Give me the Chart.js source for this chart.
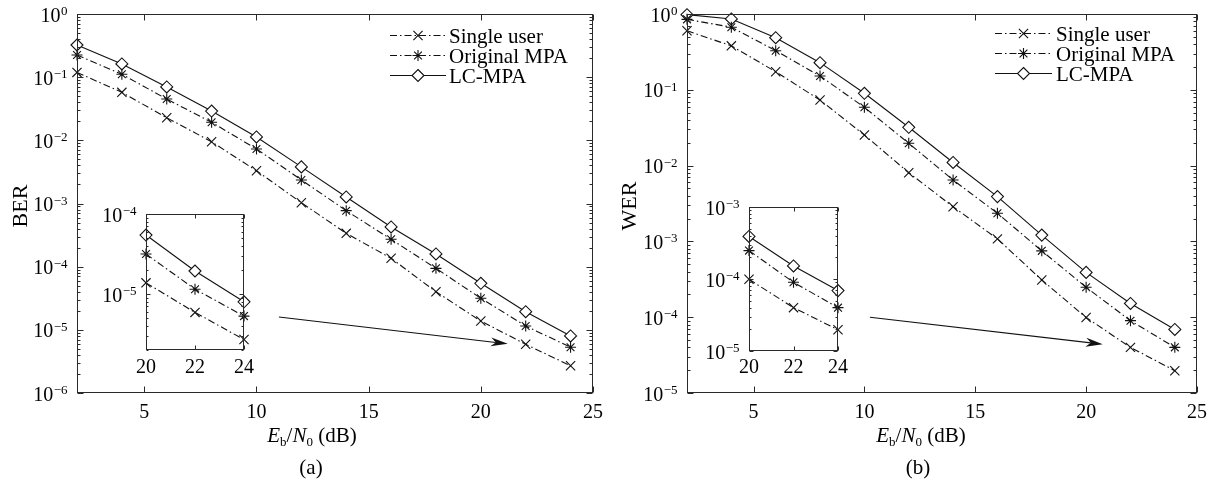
<!DOCTYPE html>
<html>
<head>
<meta charset="utf-8">
<title>BER / WER versus Eb/N0</title>
<script src="https://cdn.jsdelivr.net/npm/chart.js@4.4.1/dist/chart.umd.min.js"></script>
<style>
  html, body { margin: 0; padding: 0; background: #fff; }
  #wrap { position: relative; width: 1223px; height: 482px; overflow: hidden; background: #fff; }
  canvas { position: absolute; }
</style>
</head>
<body>
<div id="wrap">
  <canvas id="berMain" width="610" height="482" style="left:0px;top:0px"></canvas>
  <canvas id="berInset" width="170" height="185" style="left:96px;top:200px"></canvas>
  <canvas id="werMain" width="613" height="482" style="left:610px;top:0px"></canvas>
  <canvas id="werInset" width="160" height="195" style="left:700px;top:193px"></canvas>
</div>
<script>
// ---- data ----
const snrDb = [2, 4, 6, 8, 10, 12, 14, 16, 18, 20, 22, 24];
const seriesNames = ['Single user', 'Original MPA', 'LC-MPA'];

// bit error rate, panel (a)
const berSingleUser  = [0.119, 0.0575, 0.0228, 0.0095, 0.0033, 0.00103, 3.37e-4, 1.36e-4, 4.0e-5, 1.38e-5, 5.9e-6, 2.7e-6];
const berOriginalMpa = [0.224, 0.111, 0.045, 0.0193, 0.0073, 0.00236, 7.7e-4, 2.71e-4, 9.4e-5, 3.16e-5, 1.15e-5, 5.3e-6];
const berLcMpa       = [0.323, 0.162, 0.070, 0.0291, 0.0113, 0.0038, 1.27e-3, 4.25e-4, 1.59e-4, 5.46e-5, 1.94e-5, 8.0e-6];

// word error rate, panel (b)
const werSingleUser  = [0.60, 0.38, 0.173, 0.0733, 0.0253, 0.00806, 0.00287, 0.00108, 3.1e-4, 9.9e-5, 4.0e-5, 1.97e-5];
const werOriginalMpa = [0.85, 0.67, 0.328, 0.152, 0.0588, 0.0197, 0.00646, 0.00235, 7.5e-4, 2.48e-4, 9.0e-5, 4.0e-5];
const werLcMpa       = [0.98, 0.86, 0.487, 0.228, 0.090, 0.032, 0.011, 0.0039, 1.21e-3, 3.9e-4, 1.52e-4, 6.9e-5];

// tick labels
const mainXTicks = [5, 10, 15, 20, 25];
const insetXTicks = [20, 22, 24];
const berDecades = [0, -1, -2, -3, -4, -5, -6];
const werDecades = [0, -1, -2, -3, -4, -5];
const berInsetDecades = [-4, -5];
const werInsetDecades = [-3, -4, -5];
const insetFromDb = 20;

// zoom arrows (data units: [Eb/N0, error rate])
const berArrowFrom = [11.0, 1.6e-5], berArrowTo = [21.2, 6.0e-6];
const werArrowFrom = [10.25, 1.0e-4], werArrowTo = [20.75, 4.4e-5];

// ---- styling ----
const FONT = '"Liberation Serif", "Times New Roman", Times, serif';
const INK = '#111';
const AXIS = '#2a2a2a';
const DASH_DOT = [7, 3, 1.5, 3];
const seriesStyles = [
  { pointStyle: 'crossRot', radius: 6.5, dash: DASH_DOT },
  { pointStyle: 'star',     radius: 5.5, dash: DASH_DOT },
  { pointStyle: 'rectRot',  radius: 6,   dash: [] }
];

function makeDatasets(seriesValues, fromDb) {
  return seriesValues.map((vals, i) => {
    const pts = [];
    snrDb.forEach((x, j) => { if (x >= fromDb) pts.push({ x: x, y: vals[j] }); });
    const st = seriesStyles[i];
    return {
      label: seriesNames[i],
      data: pts,
      borderColor: INK,
      borderWidth: 1.1,
      borderDash: st.dash,
      pointStyle: st.pointStyle,
      pointRadius: st.radius,
      pointBorderColor: INK,
      pointBackgroundColor: '#fff',
      pointBorderWidth: 1.1,
      fill: false,
      tension: 0,
      clip: false
    };
  });
}

// small marker painter for the legend rows (same shapes as the chart points)
function paintMarker(ctx, style, r, x, y) {
  ctx.beginPath();
  if (style === 'crossRot' || style === 'star') {
    const d = r * Math.SQRT1_2;
    ctx.moveTo(x - d, y - d); ctx.lineTo(x + d, y + d);
    ctx.moveTo(x - d, y + d); ctx.lineTo(x + d, y - d);
    if (style === 'star') {
      ctx.moveTo(x - r, y); ctx.lineTo(x + r, y);
      ctx.moveTo(x, y - r); ctx.lineTo(x, y + r);
    }
    ctx.stroke();
  } else {
    ctx.moveTo(x, y - r); ctx.lineTo(x + r, y); ctx.lineTo(x, y + r); ctx.lineTo(x - r, y);
    ctx.closePath();
    ctx.fillStyle = '#fff'; ctx.fill(); ctx.stroke();
  }
}

function hline(ctx, x0, y0, x1, y1) {
  ctx.beginPath(); ctx.moveTo(x0, y0); ctx.lineTo(x1, y1); ctx.stroke();
}

// rich text run: parts {t, italic, sub}
function drawRun(ctx, parts, cx, baseline, size) {
  const subSize = Math.round(size * 0.64);
  const fontOf = p => (p.italic ? 'italic ' : '') + (p.sub ? subSize : size) + 'px ' + FONT;
  let total = 0;
  parts.forEach(p => { ctx.font = fontOf(p); p.w = ctx.measureText(p.t).width; total += p.w; });
  let x = cx - total / 2;
  ctx.textAlign = 'left'; ctx.textBaseline = 'alphabetic';
  parts.forEach(p => {
    ctx.font = fontOf(p);
    ctx.fillText(p.t, x, baseline + (p.sub ? 4 : 0));
    x += p.w;
  });
}

function drawArrow(ctx, xs, ys, from, to) {
  const x0 = xs.getPixelForValue(from[0]), y0 = ys.getPixelForValue(from[1]);
  const x1 = xs.getPixelForValue(to[0]),   y1 = ys.getPixelForValue(to[1]);
  const a = Math.atan2(y1 - y0, x1 - x0), c = Math.cos(a), s = Math.sin(a);
  const len = 17, hw = 4.5, notch = 12;
  ctx.strokeStyle = INK; ctx.fillStyle = INK; ctx.lineWidth = 1.1;
  hline(ctx, x0, y0, x1 - notch * c, y1 - notch * s);
  ctx.beginPath();
  ctx.moveTo(x1, y1);
  ctx.lineTo(x1 - len * c + hw * s, y1 - len * s - hw * c);
  ctx.lineTo(x1 - notch * c, y1 - notch * s);
  ctx.lineTo(x1 - len * c - hw * s, y1 - len * s + hw * c);
  ctx.closePath();
  ctx.fill();
}

// axes box, inward ticks, labels, legend and titles
function makeDeco(cfg) {
  return {
    id: 'deco',
    beforeDatasetsDraw(chart) {
      if (!cfg.whiteArea) return;
      const a = chart.chartArea, ctx = chart.ctx;
      ctx.save(); ctx.fillStyle = '#fff';
      ctx.fillRect(a.left, a.top, a.right - a.left, a.bottom - a.top);
      ctx.restore();
    },
    afterDatasetsDraw(chart) {
      const ctx = chart.ctx, a = chart.chartArea;
      const xs = chart.scales.x, ys = chart.scales.y;
      const L = Math.round(a.left) + 0.5, R = Math.round(a.right) - 0.5;
      const T = Math.round(a.top) + 0.5, B = Math.round(a.bottom) - 0.5;
      ctx.save();
      ctx.setLineDash([]);
      ctx.strokeStyle = AXIS; ctx.lineWidth = 1;
      ctx.strokeRect(L, T, R - L, B - T);

      // x ticks (bottom + mirrored top)
      cfg.xTicks.forEach(v => {
        const px = Math.round(xs.getPixelForValue(v)) + 0.5;
        hline(ctx, px, B, px, B - cfg.major);
        hline(ctx, px, T, px, T + cfg.major);
      });
      // y ticks, decades + minor 2..9 (left + mirrored right)
      const lo = Math.floor(Math.log10(ys.min)), hi = Math.ceil(Math.log10(ys.max));
      for (let d = lo; d <= hi; d++) {
        for (let m = 1; m <= 9; m++) {
          const v = m * Math.pow(10, d);
          if (v < ys.min * 0.999 || v > ys.max * 1.001) continue;
          const len = m === 1 ? cfg.major : cfg.minor;
          const py = Math.round(ys.getPixelForValue(v)) + 0.5;
          hline(ctx, L, py, L + len, py);
          hline(ctx, R, py, R - len, py);
        }
      }

      ctx.fillStyle = '#000';
      // x tick labels
      ctx.font = cfg.fontSize + 'px ' + FONT;
      ctx.textAlign = 'center'; ctx.textBaseline = 'alphabetic';
      cfg.xTicks.forEach(v => {
        ctx.fillText(String(v), xs.getPixelForValue(v), B + cfg.xLabelOffset);
      });
      // y tick labels 10^e
      cfg.yDecades.forEach(e => {
        const py = ys.getPixelForValue(Math.pow(10, e));
        const sup = e === 0 ? '0' : '\u2212' + (-e);
        ctx.font = cfg.fontSize + 'px ' + FONT;
        const w10 = ctx.measureText('10').width;
        ctx.font = cfg.supSize + 'px ' + FONT;
        const ws = ctx.measureText(sup).width;
        const start = L - cfg.yLabelGap - ws - w10 - 0.5;
        ctx.textAlign = 'left';
        ctx.font = cfg.fontSize + 'px ' + FONT;
        ctx.fillText('10', start, py + 7.5);
        ctx.font = cfg.supSize + 'px ' + FONT;
        ctx.fillText(sup, start + w10 + 0.5, py + 1);
      });

      // legend
      if (cfg.legend) {
        const lg = cfg.legend;
        seriesNames.forEach((name, i) => {
          const y = lg.y0 + i * lg.dy + 0.5;
          const st = seriesStyles[i];
          ctx.strokeStyle = INK; ctx.lineWidth = 1.1;
          ctx.setLineDash(st.dash);
          hline(ctx, lg.x0, y, lg.x1, y);
          ctx.setLineDash([]);
          paintMarker(ctx, st.pointStyle, st.radius, (lg.x0 + lg.x1) / 2, y);
          ctx.fillStyle = '#000';
          ctx.font = lg.fontSize + 'px ' + FONT;
          ctx.textAlign = 'left'; ctx.textBaseline = 'alphabetic';
          ctx.fillText(name, lg.textX, y + 7);
        });
      }

      if (cfg.arrow) drawArrow(ctx, xs, ys, cfg.arrow[0], cfg.arrow[1]);

      // axis titles and panel tag
      if (cfg.yTitle) {
        ctx.fillStyle = '#000';
        ctx.save();
        ctx.translate(cfg.yTitle.x, cfg.yTitle.y);
        ctx.rotate(-Math.PI / 2);
        ctx.font = cfg.yTitle.size + 'px ' + FONT;
        ctx.textAlign = 'center'; ctx.textBaseline = 'alphabetic';
        ctx.fillText(cfg.yTitle.text, 0, 7.5);
        ctx.restore();
      }
      if (cfg.xTitle) {
        ctx.fillStyle = '#000';
        drawRun(ctx, [
          { t: 'E', italic: true }, { t: 'b', sub: true }, { t: '/' },
          { t: 'N', italic: true }, { t: '0', sub: true }, { t: ' (dB)' }
        ], cfg.xTitle.x, cfg.xTitle.y, cfg.xTitle.size);
        ctx.font = cfg.xTitle.size + 'px ' + FONT;
        ctx.textAlign = 'center';
        ctx.fillText(cfg.tag.text, cfg.tag.x, cfg.tag.y);
      }
      ctx.restore();
    }
  };
}

function buildChart(canvasId, o) {
  return new Chart(document.getElementById(canvasId), {
    type: 'line',
    data: { datasets: o.datasets },
    options: {
      responsive: false,
      animation: false,
      events: [],
      devicePixelRatio: 1,
      layout: { padding: o.padding },
      scales: {
        x: { type: 'linear', min: o.xMin, max: o.xMax, display: false },
        y: { type: 'logarithmic', min: o.yMin, max: o.yMax, display: false }
      },
      plugins: { legend: { display: false }, tooltip: { enabled: false } }
    },
    plugins: [makeDeco(o.deco)]
  });
}

const berSeries = [berSingleUser, berOriginalMpa, berLcMpa];
const werSeries = [werSingleUser, werOriginalMpa, werLcMpa];

// panel (a): BER
buildChart('berMain', {
  datasets: makeDatasets(berSeries, snrDb[0]),
  padding: { left: 77, top: 14, right: 17, bottom: 89 },
  xMin: 2, xMax: 25, yMin: 1e-6, yMax: 1,
  deco: {
    xTicks: mainXTicks, yDecades: berDecades, major: 6, minor: 3,
    fontSize: 20, supSize: 13, xLabelOffset: 25.5, yLabelGap: 10,
    legend: { x0: 390, x1: 446, textX: 449, y0: 35, dy: 20, fontSize: 21 },
    arrow: [berArrowFrom, berArrowTo],
    yTitle: { text: 'BER', x: 19, y: 206, size: 22 },
    xTitle: { x: 312, y: 442, size: 21 },
    tag: { text: '(a)', x: 311, y: 474 }
  }
});
buildChart('berInset', {
  datasets: makeDatasets(berSeries, insetFromDb),
  padding: { left: 50, top: 14, right: 22, bottom: 35 },
  xMin: 20, xMax: 24, yMin: 2e-6, yMax: 1e-4,
  deco: {
    whiteArea: true,
    xTicks: insetXTicks, yDecades: berInsetDecades, major: 4, minor: 2,
    fontSize: 20, supSize: 13, xLabelOffset: 23.5, yLabelGap: 10
  }
});

// panel (b): WER
buildChart('werMain', {
  datasets: makeDatasets(werSeries, snrDb[0]),
  padding: { left: 77, top: 14, right: 26, bottom: 89 },
  xMin: 2, xMax: 25, yMin: 1e-5, yMax: 1,
  deco: {
    xTicks: mainXTicks, yDecades: werDecades, major: 6, minor: 3,
    fontSize: 20, supSize: 13, xLabelOffset: 25.5, yLabelGap: 10,
    legend: { x0: 385, x1: 442, textX: 446, y0: 33, dy: 20, fontSize: 21 },
    arrow: [werArrowFrom, werArrowTo],
    yTitle: { text: 'WER', x: 18, y: 206, size: 22 },
    xTitle: { x: 311, y: 442, size: 21 },
    tag: { text: '(b)', x: 308, y: 474 }
  }
});
buildChart('werInset', {
  datasets: makeDatasets(werSeries, insetFromDb),
  padding: { left: 49, top: 14, right: 22, bottom: 37 },
  xMin: 20, xMax: 24, yMin: 1e-5, yMax: 1e-3,
  deco: {
    whiteArea: true,
    xTicks: insetXTicks, yDecades: werInsetDecades, major: 4, minor: 2,
    fontSize: 20, supSize: 13, xLabelOffset: 22, yLabelGap: 10
  }
});
</script>
</body>
</html>
